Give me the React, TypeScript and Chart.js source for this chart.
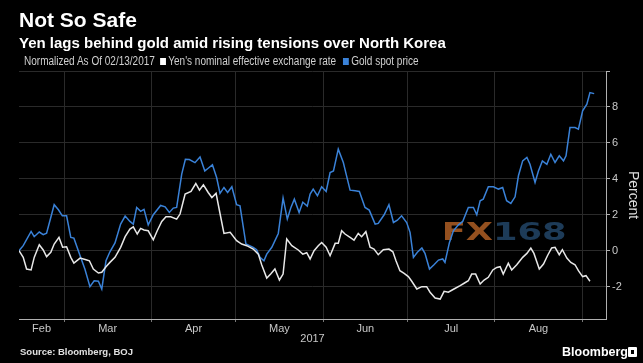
import React, { useEffect, useRef } from 'react';
import { Chart, registerables } from 'chart.js';

Chart.register(...registerables);

// x values are calendar days after 02/13/2017
const monthNames = ['Feb', 'Mar', 'Apr', 'May', 'Jun', 'Jul', 'Aug'];
const monthStartDays = [16, 47, 77, 108, 138, 169, 200];
const monthMidDays = [8, 31.5, 62, 92.5, 123, 153.5, 184.5];
const yTicks = [-2, 0, 2, 4, 6, 8, 10];

const goldDays = [
  0, 1.5, 4.3, 5.4, 7.2, 8.6, 9.8, 12.5, 14.0, 15.4, 16.9, 18.4, 19.5, 21.7, 23.4, 25.2, 26.7, 28.2, 29.4, 30.9,
  32.3, 34.1, 36.1, 37.7, 39.4, 40.6, 41.8, 43.2, 44.4, 45.9, 47.7, 50.3, 51.9, 53.4, 54.8, 56.0, 57.8, 59.1, 60.5, 62.5,
  64.3, 66.0, 67.2, 68.7, 70.2, 71.4, 72.8, 74.1, 75.6, 77.3, 78.5, 80.6, 83.2, 84.4, 85.6, 87.0, 88.0, 89.8, 92.1, 93.8,
  95.3, 96.6, 97.8, 99.5, 100.8, 102.4, 103.4, 104.5, 106.0, 107.5, 109.1, 110.5, 111.7, 113.4, 115.2, 116.2, 117.6, 119.4, 120.9, 122.9,
  124.4, 126.5, 127.6, 129.7, 131.4, 133.0, 134.4, 135.9, 137.7, 138.9, 140.1, 141.5, 143.1, 144.2, 145.8, 147.4, 149.0, 150.5, 151.3, 152.9,
  154.3, 156.1, 157.6, 159.6, 161.4, 162.6, 163.8, 164.9, 166.7, 168.5, 170.3, 171.8, 173.2, 174.7, 176.2, 177.4, 178.9, 180.4, 181.5, 183.3,
  184.5, 185.9, 187.5, 188.9, 190.4, 191.9, 193.4, 194.3, 195.7, 197.5, 198.7, 200.2, 201.7, 202.8, 204.3,
];
const goldPct = [
  0, 0.28, 1.07, 0.78, 1.04, 0.89, 0.98, 2.56, 2.28, 1.94, 1.94, 0.74, 0.7, -0.28, -1.02, -2.0, -1.67, -1.7, -2.13, -0.56,
  -0.06, 0.43, 1.48, 1.93, 1.63, 1.48, 2.41, 2.19, 2.3, 1.44, 2.0, 2.52, 2.44, 2.13, 2.37, 2.41, 4.26, 5.09, 5.07, 4.9,
  5.22, 4.44, 4.59, 4.78, 4.07, 3.19, 3.52, 3.24, 3.56, 2.56, 2.5, 0.37, 0.19, 0.06, -0.37, -0.56, -0.19, 0.19, 0.96, 2.93,
  1.76, 2.41, 2.87, 2.13, 2.7, 2.48, 3.15, 3.43, 3.06, 3.56, 3.3, 4.35, 4.44, 5.65, 4.91, 4.26, 3.37, 3.33, 3.3, 2.41,
  2.26, 1.48, 1.52, 2.0, 2.56, 1.57, 1.7, 1.94, 1.57, 1.02, -0.37, -0.09, 0.15, -0.15, -1.02, -0.78, -0.52, -0.46, -0.65, 0.46,
  1.11, 1.44, 1.63, 2.41, 2.41, 2.0, 2.78, 2.87, 3.56, 3.56, 3.43, 3.52, 2.78, 2.63, 3.0, 4.17, 5.0, 5.19, 4.81, 3.8,
  4.44, 5.0, 4.81, 5.37, 4.91, 5.28, 5.0, 5.28, 6.85, 6.85, 6.76, 7.78, 8.15, 8.8, 8.74,
];

const yenDays = [
  0, 1.5, 2.7, 4.3, 5.4, 7.2, 8.6, 9.8, 11.3, 12.5, 14.2, 15.5, 16.9, 18.4, 19.5, 21.7, 23.8, 25.0, 26.4, 28.2,
  29.4, 30.9, 32.3, 34.1, 36.1, 37.7, 39.4, 40.6, 42.0, 43.2, 44.4, 45.9, 47.7, 49.1, 50.7, 52.2, 53.9, 56.0, 57.2, 59.0,
  61.1, 62.8, 64.1, 65.5, 67.2, 68.5, 70.0, 71.4, 72.8, 75.0, 77.3, 79.1, 80.9, 83.2, 85.0, 86.2, 88.0, 89.4, 90.9, 92.5,
  93.8, 95.1, 96.9, 99.2, 100.8, 102.2, 103.4, 104.8, 106.3, 107.5, 109.1, 110.5, 112.3, 113.4, 114.6, 115.8, 117.6, 119.0, 120.5, 121.7,
  123.2, 124.7, 126.1, 127.6, 129.4, 131.4, 132.8, 133.9, 135.3, 136.8, 138.3, 139.5, 141.3, 143.1, 144.8, 146.0, 147.8, 149.6, 151.0, 152.5,
  154.5, 156.7, 158.1, 159.6, 160.8, 162.2, 163.8, 165.2, 166.7, 168.3, 169.7, 170.9, 172.0, 173.8, 175.0, 176.8, 178.9, 180.4, 181.8, 182.9,
  184.8, 186.3, 187.7, 189.2, 190.4, 191.9, 193.0, 194.6, 196.0, 197.5, 198.7, 200.2, 201.4, 202.8,
];
const yenPct = [
  0, -0.37, -1.02, -1.07, -0.37, 0.33, 0.04, -0.33, -0.09, 0.37, 0.74, 0.19, 0.22, -0.37, -0.69, -0.41, -0.5, -0.56, -1.02, -1.24,
  -1.2, -0.89, -0.65, -0.37, 0.19, 0.78, 1.2, 1.33, 0.93, 1.24, 1.15, 1.11, 0.61, 1.11, 1.63, 1.89, 1.89, 1.76, 2.04, 3.15,
  3.3, 3.74, 3.37, 3.67, 3.24, 2.96, 3.19, 2.07, 0.96, 1.02, 0.56, 0.37, 0.28, 0.09, -0.19, -0.78, -1.52, -1.3, -1.02, -1.63,
  -1.3, 0.65, 0.28, 0.04, -0.19, -0.11, -0.46, 0, 0.28, 0.46, 0.19, -0.28, 0.41, 0.41, 1.11, 0.93, 0.74, 0.59, 0.96, 0.78,
  1.06, 0.19, 0.09, -0.22, 0.06, 0.09, -0.06, -0.56, -1.11, -1.26, -1.44, -1.7, -2.13, -2.0, -2.0, -2.31, -2.63, -2.69, -2.26, -2.31,
  -2.13, -1.94, -1.81, -1.67, -1.3, -1.3, -1.85, -1.63, -1.48, -1.07, -0.93, -0.89, -1.3, -0.7, -1.07, -0.78, -0.37, -0.15, 0.15, -0.15,
  -1.02, -0.74, -0.28, 0.15, 0.19, -0.22, 0.06, -0.41, -0.65, -0.78, -1.11, -1.44, -1.39, -1.7,
];

const GOLD_COLOR = '#3a82d8';
const YEN_COLOR = '#e8e8e8';
const GRID_COLOR = '#2a2a2a';
const AXIS_COLOR = '#b0b0b0';
const SANS = "'Liberation Sans', Arial, sans-serif";

const watermarkPlugin = {
  id: 'watermark',
  beforeDatasetsDraw(chart: any) {
    const { ctx, chartArea } = chart;
    const w = chartArea.right - chartArea.left;
    const h = chartArea.bottom - chartArea.top;
    const left = chartArea.left + w * 0.72;
    const base = chartArea.top + h * 0.682;
    const targetW = w * 0.213;
    ctx.save();
    ctx.font = "bold 25px 'DejaVu Sans', sans-serif";
    const full = ctx.measureText('FX168').width;
    const fx = ctx.measureText('FX').width;
    ctx.translate(left, base);
    ctx.scale(targetW / full, 1);
    ctx.textBaseline = 'alphabetic';
    ctx.fillStyle = '#94501f';
    ctx.fillText('FX', 0, 0);
    ctx.fillStyle = '#1d3b58';
    ctx.fillText('168', fx, 0);
    ctx.restore();
  },
};

function ChartCanvas() {
  const ref = useRef<HTMLCanvasElement | null>(null);
  useEffect(() => {
    if (!ref.current) return;
    const chart = new Chart(ref.current, {
      type: 'line',
      data: {
        datasets: [
          {
            label: "Yen's nominal effective exchange rate",
            data: yenDays.map((d, i) => ({ x: d, y: yenPct[i] })),
            borderColor: YEN_COLOR,
            borderWidth: 1.5,
            pointRadius: 0,
            tension: 0,
          },
          {
            label: 'Gold spot price',
            data: goldDays.map((d, i) => ({ x: d, y: goldPct[i] })),
            borderColor: GOLD_COLOR,
            borderWidth: 1.5,
            pointRadius: 0,
            tension: 0,
          },
        ],
      },
      plugins: [watermarkPlugin],
      options: {
        animation: false,
        responsive: false,
        maintainAspectRatio: false,
        devicePixelRatio: 1,
        layout: { padding: { left: 19, top: 71, right: 0, bottom: 17 } },
        plugins: { legend: { display: false }, tooltip: { enabled: false }, title: { display: false } },
        scales: {
          x: {
            type: 'linear',
            min: 0,
            max: 208.5,
            afterFit: (s: any) => { s.height = 27; },
            afterBuildTicks: (s: any) => {
              s.ticks = [...monthStartDays, ...monthMidDays].sort((a, b) => a - b).map((v) => ({ value: v }));
            },
            ticks: {
              autoSkip: false,
              maxRotation: 0,
              color: '#c8c8c8',
              padding: 0,
              font: { family: SANS, size: 11 },
              callback: (v: any) => {
                const i = monthMidDays.indexOf(Number(v));
                return i >= 0 ? monthNames[i] : '';
              },
            },
            grid: {
              color: (c: any) => (c.tick && monthStartDays.includes(c.tick.value) ? GRID_COLOR : 'rgba(0,0,0,0)'),
              tickColor: (c: any) => (c.tick && monthStartDays.includes(c.tick.value) ? '#777' : 'rgba(0,0,0,0)'),
              tickLength: 3,
              lineWidth: 1,
            },
            border: { color: AXIS_COLOR, width: 1 },
            title: { display: true, text: '2017', color: '#c8c8c8', font: { family: SANS, size: 11 }, padding: 0 },
          },
          y: {
            type: 'linear',
            position: 'right',
            min: -3.8,
            max: 10,
            afterFit: (s: any) => { s.width = 37; },
            afterBuildTicks: (s: any) => { s.ticks = yTicks.map((v) => ({ value: v })); },
            ticks: {
              color: '#c8c8c8',
              padding: 2,
              font: { family: SANS, size: 11 },
              callback: (v: any) => (Number(v) === 10 ? '' : String(v)),
            },
            grid: { color: GRID_COLOR, tickColor: AXIS_COLOR, tickLength: 4, lineWidth: 1 },
            border: { color: AXIS_COLOR, width: 1 },
            title: { display: true, text: 'Percent', color: '#dddddd', font: { family: SANS, size: 14 }, padding: { top: 2, bottom: 0 } },
          },
        },
      },
    } as any);
    return () => chart.destroy();
  }, []);
  return <canvas ref={ref} width={643} height={363} style={{ position: 'absolute', left: 0, top: 0, width: 643, height: 363 }} />;
}

export default function App() {
  useEffect(() => {
    document.body.style.margin = '0';
    document.body.style.background = '#000';
  }, []);
  const abs = (extra: React.CSSProperties): React.CSSProperties => ({ position: 'absolute', whiteSpace: 'nowrap', lineHeight: 1, ...extra });
  return (
    <div style={{ position: 'relative', width: 643, height: 363, background: '#000', overflow: 'hidden', fontFamily: SANS }}>
      <ChartCanvas />
      <div style={abs({ left: 19, top: 9, fontSize: 21, fontWeight: 700, color: '#fff' })}>Not So Safe</div>
      <div style={abs({ left: 19, top: 35, fontSize: 15, fontWeight: 700, color: '#fff' })}>Yen lags behind gold amid rising tensions over North Korea</div>
      <div style={abs({ left: 24, top: 55, fontSize: 12, color: '#d0d0d0', transform: 'scaleX(0.835)', transformOrigin: 'left top' })}>
        Normalized As Of 02/13/2017
        <span style={{ display: 'inline-block', width: 7, height: 7, background: '#fff', margin: '0 3px 0 6px' }} />
        Yen's nominal effective exchange rate
        <span style={{ display: 'inline-block', width: 7, height: 7, background: GOLD_COLOR, margin: '0 3px 0 8px' }} />
        Gold spot price
      </div>
      <div style={abs({ left: 20, top: 347, fontSize: 9.5, fontWeight: 700, color: '#e0e0e0' })}>Source: Bloomberg, BOJ</div>
      <div style={abs({ left: 562, top: 346, fontSize: 12.5, fontWeight: 700, color: '#fff' })}>Bloomberg</div>
      <div style={abs({ left: 628, top: 347, width: 9, height: 10, background: '#fff', borderRadius: 1 })}>
        <div style={{ position: 'absolute', left: 3, top: 3, width: 3, height: 4, background: '#000' }} />
      </div>
    </div>
  );
}
